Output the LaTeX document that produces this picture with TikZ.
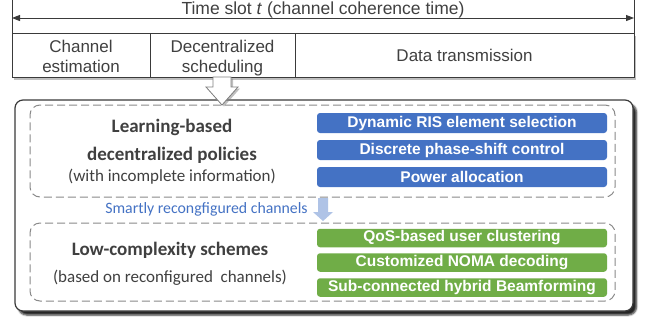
\documentclass[tikz,border=0pt]{standalone}
\usepackage{fontspec}
\setmainfont{Liberation Sans}
\newfontfamily\calfont{Carlito}
\usetikzlibrary{arrows.meta,shadows,shadows.blur}
\definecolor{oblue}{HTML}{4472C4}
\definecolor{ogreen}{HTML}{70AD47}
\definecolor{lblue}{HTML}{AFC3E6}
\definecolor{txtg}{HTML}{404040}
\definecolor{lineg}{HTML}{3A3A3A}
\definecolor{dashg}{HTML}{8A8A8A}
\begin{document}
\begin{tikzpicture}[x=1pt,y=-1pt,
  cellbox/.style={draw=lineg, line width=1pt, minimum height=44pt, inner sep=0pt, outer sep=0pt},
  hdtxt/.style={font=\fontsize{17}{20}\selectfont, text=txtg, anchor=base, inner sep=0pt},
  opbox/.style={rounded corners=3pt, minimum width=290pt, inner sep=0pt, outer sep=0pt, text=white, font=\bfseries\fontsize{15.5}{18}\selectfont},
  bluebox/.style={opbox, fill=oblue, minimum height=20pt},
  greenbox/.style={opbox, fill=ogreen, minimum height=18.5pt},
  dashbox/.style={draw=dashg, dash pattern=on 8pt off 4pt, line width=1pt, rounded corners=10pt, inner sep=0pt, outer sep=0pt, minimum width=585pt},
  lbold/.style={font=\calfont\bfseries\fontsize{19}{22}\selectfont, text=txtg, anchor=base, inner sep=0pt},
  lreg/.style={font=\calfont\fontsize{17}{20}\selectfont, text=txtg, anchor=base, inner sep=0pt},
  tick/.style={draw=lineg, line width=1pt},
  span/.style={draw=lineg, line width=1pt, {Triangle[length=8pt,width=6pt]}-{Triangle[length=8pt,width=6pt]}}
]
\useasboundingbox (0,0) rectangle (646,325);

% time slot header
\coordinate (tlt) at (12,0);
\coordinate (trt) at (634,0);
\coordinate (al) at (12,18);
\coordinate (ar) at (634,18);
\node[hdtxt, font=\fontsize{17.5}{20}\selectfont] (title) at (323,14) {Time slot \textit{t} (channel coherence time)};

\node[fill=white, minimum width=622pt, minimum height=44pt, inner sep=0pt, outer sep=0pt,
      drop shadow={shadow xshift=2pt, shadow yshift=-2.5pt, fill=black!50}] (rowbg) at (323,55) {};
\node[cellbox, minimum width=138pt] (cellA) at (81,55) {};
\node[cellbox, minimum width=145pt] (cellB) at (222.5,55) {};
\node[cellbox, minimum width=339pt] (cellC) at (464.5,55) {};
\draw[tick] (tlt) -- (cellA.north west);
\draw[tick] (trt) -- (cellC.north east);
\draw[span] (al) -- (ar);

\node[hdtxt] (tA1) at (81,52) {Channel};
\node[hdtxt] (tA2) at (81,72) {estimation};
\node[hdtxt] (tB1) at (222.5,52) {Decentralized};
\node[hdtxt] (tB2) at (222.5,72) {scheduling};
\node[hdtxt] (tC) at (464.5,61.5) {Data transmission};

% main panel
\node[draw=lineg, line width=1.2pt, fill=white, rounded corners=8pt, minimum width=618pt, minimum height=211pt,
      inner sep=0pt, outer sep=0pt,
      blur shadow={shadow xshift=3.5pt, shadow yshift=-4pt, shadow blur steps=5, shadow blur radius=1.8pt, shadow opacity=85}] (panel) at (324,205.5) {};

% hollow block arrow
\draw[draw=black!50, line width=0.8pt, fill=white,
      drop shadow={shadow xshift=2pt, shadow yshift=-1.5pt, fill=black!50}]
  (213,77) -- (213,87) -- (206,87) -- (222,105) -- (238,87) -- (231,87) -- (231,77) -- cycle;

% dashed groups
\node[dashbox, minimum height=92pt] (grp1) at (322.5,151) {};
\node[dashbox, minimum height=78pt] (grp2) at (322.5,262) {};

% policies
\node[lbold] (l1) at (172,132) {Learning-based};
\node[lbold] (l2) at (172,160) {decentralized policies};
\node[lreg] (l3) at (172,181) {(with incomplete information)};

\node[bluebox] (b1) at (462,123) {Dynamic RIS element selection};
\node[bluebox] (b2) at (462,150) {Discrete phase-shift control};
\node[bluebox] (b3) at (462,177) {Power allocation};

% smartly reconfigured
\node[font=\calfont\fontsize{15.8}{18}\selectfont, text=oblue, anchor=base, inner sep=0pt] (smart) at (206.5,213) {Smartly recongfigured channels};
\fill[lblue] (318,198) -- (318,212) -- (313,212) -- (323,221) -- (333,212) -- (328,212) -- (328,198) -- cycle;

% low complexity
\node[lbold] (m1) at (170,255) {Low-complexity schemes};
\node[lreg] (m2) at (170,282) {(based on reconfigured~~channels)};

\node[greenbox] (g1) at (462,238) {QoS-based user clustering};
\node[greenbox] (g2) at (462,262.5) {Customized NOMA decoding};
\node[greenbox] (g3) at (462,287.5) {Sub-connected hybrid Beamforming};
\end{tikzpicture}
\end{document}
